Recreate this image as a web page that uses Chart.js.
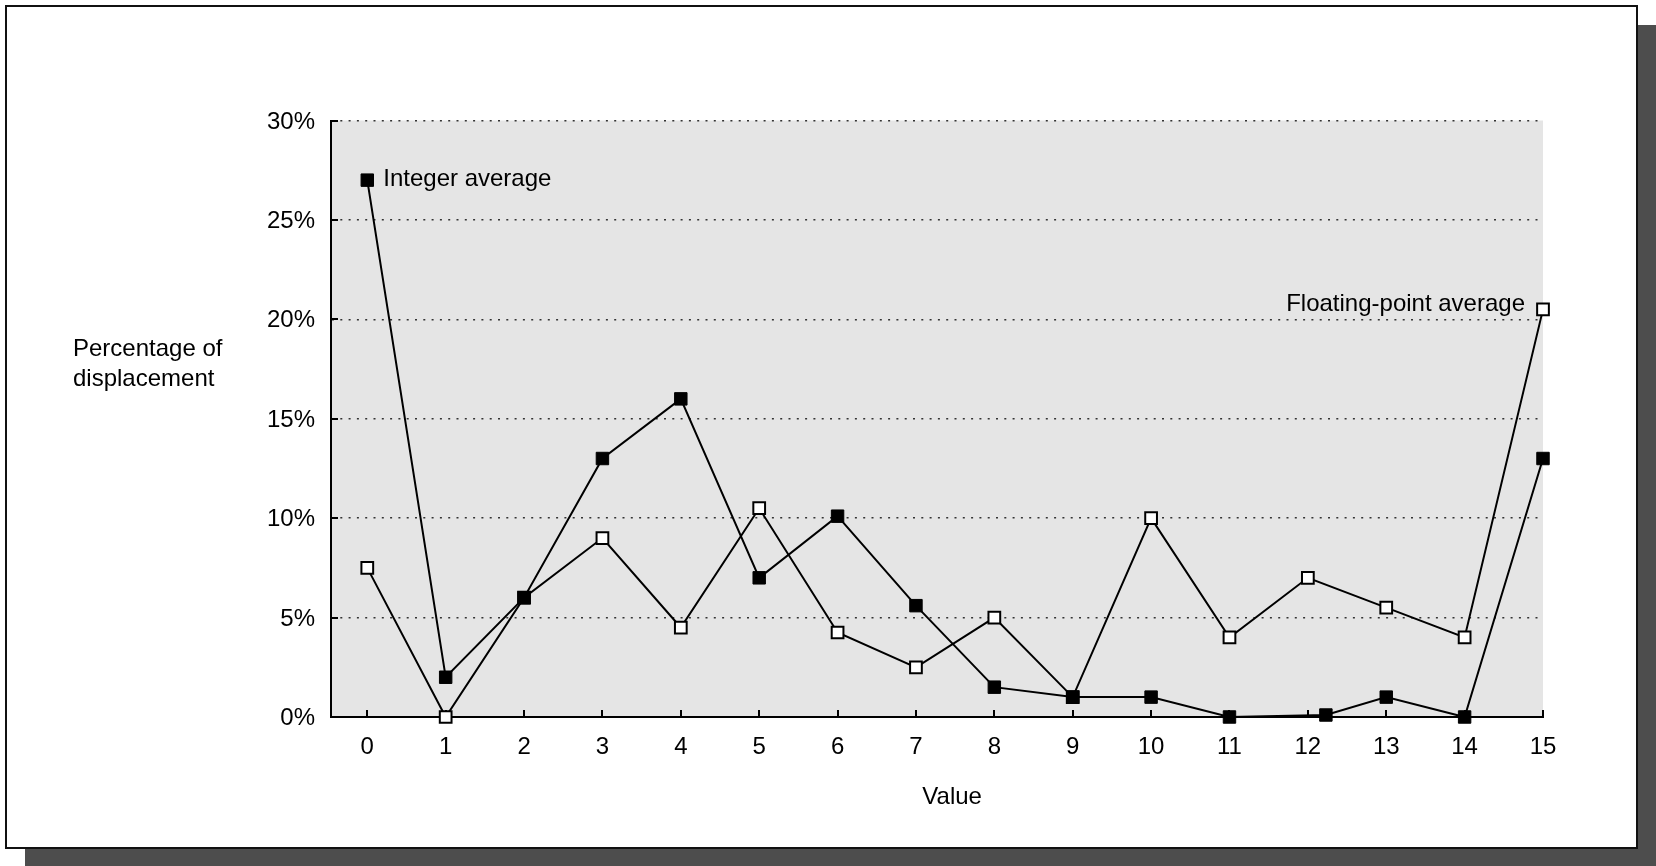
<!DOCTYPE html>
<html>
<head>
<meta charset="utf-8">
<title>Percentage of displacement</title>
<script src="https://cdn.jsdelivr.net/npm/chart.js@4.4.1/dist/chart.umd.min.js"></script>
<style>
  html, body { margin: 0; padding: 0; background: #fff; overflow: hidden; }
  #frame {
    position: absolute; left: 5px; top: 5px;
    width: 1629px; height: 840px;
    border: 2px solid #111;
    box-shadow: 20px 20px 0 #4d4d4d;
    background: #fff;
  }
  canvas { display: block; }
</style>
</head>
<body>
<div id="frame"><canvas id="chart" width="1629" height="840"></canvas></div>
<script>
// ──────────────────────────────
//  DATA
// ──────────────────────────────
const xTicks = [0, 1, 2, 3, 4, 5, 6, 7, 8, 9, 10, 11, 12, 13, 14, 15];
const yTicks = [0, 5, 10, 15, 20, 25, 30];

// integer series: the marker near 12 sits slightly right of the tick
const integerX = [0, 1, 2, 3, 4, 5, 6, 7, 8, 9, 10, 11, 12.23, 13, 14, 15];
const integerAvg = [27, 2, 6, 13, 16, 7, 10.1, 5.6, 1.5, 1, 1, 0, 0.1, 1, 0, 13];

const floatX = [0, 1, 2, 3, 4, 5, 6, 7, 8, 9, 10, 11, 12, 13, 14, 15];
const floatAvg = [7.5, 0, 6, 9, 4.5, 10.5, 4.25, 2.5, 5, 1, 10, 4, 7, 5.5, 4, 20.5];

const INT_LABEL = "Integer average";
const FLOAT_LABEL = "Floating-point average";
const X_TITLE = "Value";
const Y_TITLE = ["Percentage of", "displacement"];

// ──────────────────────────────
//  CONFIG
// ──────────────────────────────
const FONT = "'Liberation Sans', Arial, Helvetica, sans-serif";
const FONT_SIZE = 24;
Chart.defaults.font.family = FONT;
Chart.defaults.font.size = FONT_SIZE;
Chart.defaults.color = "#000";

// gray plot area, inward tick marks, annotations and titles
const decor = {
  id: "decor",
  beforeDraw(chart) {
    const { ctx, chartArea: a } = chart;
    ctx.save();
    ctx.fillStyle = "#e5e5e5";
    ctx.fillRect(a.left, a.top, a.right - a.left, a.bottom - a.top);
    ctx.restore();
  },
  beforeDatasetsDraw(chart) {
    const { ctx, chartArea: a, scales } = chart;
    ctx.save();
    ctx.strokeStyle = "#000";
    ctx.lineWidth = 2;
    ctx.beginPath();
    yTicks.forEach((v) => {
      const y = Math.round(scales.y.getPixelForValue(v));
      ctx.moveTo(a.left, y);
      ctx.lineTo(a.left + 7, y);
    });
    xTicks.forEach((v) => {
      const x = Math.round(scales.x.getPixelForValue(v));
      ctx.moveTo(x, a.bottom);
      ctx.lineTo(x, a.bottom - 7);
    });
    ctx.stroke();
    ctx.restore();
  },
  afterDatasetsDraw(chart) {
    const { ctx, chartArea: a, scales } = chart;
    ctx.save();
    ctx.fillStyle = "#000";
    ctx.font = `${FONT_SIZE}px ${FONT}`;
    ctx.textBaseline = "middle";

    // series labels next to their first / last markers
    const pInt = chart.getDatasetMeta(0).data[0];
    ctx.textAlign = "left";
    ctx.fillText(INT_LABEL, pInt.x + 16, pInt.y - 1);

    const fMeta = chart.getDatasetMeta(1).data;
    const pFloat = fMeta[fMeta.length - 1];
    ctx.textAlign = "right";
    ctx.fillText(FLOAT_LABEL, pFloat.x - 18, pFloat.y - 5);

    // axis titles
    ctx.textAlign = "center";
    ctx.fillText(X_TITLE, scales.x.getPixelForValue(7.5) - 3, a.bottom + 80);
    ctx.textAlign = "left";
    ctx.fillText(Y_TITLE[0], a.left - 258, a.top + 229);
    ctx.fillText(Y_TITLE[1], a.left - 258, a.top + 259);
    ctx.restore();
  },
};

new Chart(document.getElementById("chart"), {
  type: "line",
  data: {
    datasets: [
      {
        label: INT_LABEL,
        data: integerX.map((x, i) => ({ x, y: integerAvg[i] })),
        borderColor: "#000",
        borderWidth: 2,
        pointStyle: "rect",
        pointRadius: 8.8,
        pointBackgroundColor: "#000",
        pointBorderColor: "#000",
        pointBorderWidth: 1,
        tension: 0,
        clip: false,
      },
      {
        label: FLOAT_LABEL,
        data: floatX.map((x, i) => ({ x, y: floatAvg[i] })),
        borderColor: "#000",
        borderWidth: 2,
        pointStyle: "rect",
        pointRadius: 8.3,
        pointBackgroundColor: "#fff",
        pointBorderColor: "#000",
        pointBorderWidth: 2,
        tension: 0,
        clip: false,
      },
    ],
  },
  options: {
    responsive: false,
    animation: false,
    events: [],
    layout: { padding: { left: 0, top: 113.5, right: 93, bottom: 0 } },
    plugins: { legend: { display: false }, tooltip: { enabled: false } },
    scales: {
      x: {
        type: "linear",
        min: -0.463,
        max: 15,
        afterBuildTicks: (scale) => { scale.ticks = xTicks.map((v) => ({ value: v })); },
        afterFit: (scale) => { scale.height = 130; },
        grid: { display: false, drawTicks: false },
        border: { display: true, color: "#000", width: 2 },
        ticks: { padding: 16, autoSkip: false, maxRotation: 0 },
      },
      y: {
        min: 0,
        max: 30,
        afterBuildTicks: (scale) => { scale.ticks = yTicks.map((v) => ({ value: v })); },
        afterFit: (scale) => { scale.width = 324; },
        grid: { color: "#333", lineWidth: 1.5, drawTicks: false },
        border: { display: true, color: "#000", width: 2, dash: [2, 6.3] },
        ticks: { padding: 16, labelOffset: 1.5, callback: (v) => v + "%" },
      },
    },
  },
  plugins: [decor],
});
</script>
</body>
</html>
